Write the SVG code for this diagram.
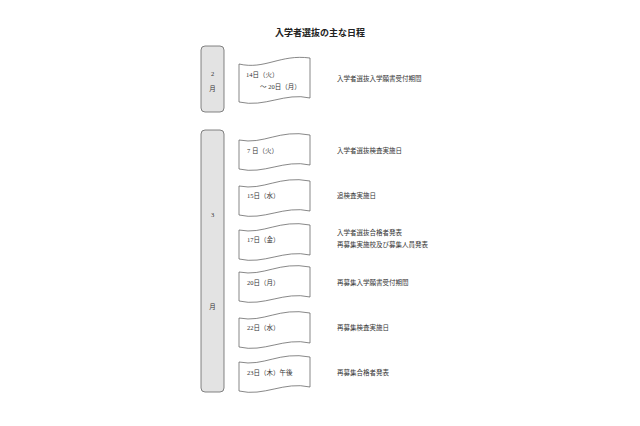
<svg xmlns="http://www.w3.org/2000/svg" width="640" height="426" viewBox="0 0 640 426">
<defs>
<style>
text{font-family:"Liberation Serif","Noto Sans CJK JP",serif;font-size:6.5px;fill:#333}
.t{font-family:"Noto Sans CJK JP",sans-serif;font-size:9px;font-weight:bold;fill:#222}
.m{fill:#e3e3e3;stroke:#666;stroke-width:0.8}
.f{fill:#fff;stroke:#555;stroke-width:0.7}
</style>
<path id="flag" d="M0,5 C25,10 40,-6 71,0 L71,30 C45,24 25,40 0,34 Z"/>
</defs>
<rect width="640" height="426" fill="#fff"/>
<text class="t" x="320" y="36" text-anchor="middle">入学者選抜の主な日程</text>
<g id="feb"><rect class="m" x="201" y="46" width="23" height="66" rx="4"/><text x="212.5" y="76" text-anchor="middle">2</text><text x="212.5" y="91" text-anchor="middle">月</text></g>
<g id="mar"><rect class="m" x="201" y="130" width="23" height="262" rx="4"/><text x="212.5" y="217" text-anchor="middle">3</text><text x="212.5" y="309" text-anchor="middle">月</text></g>
<g id="f1"><path class="f" d="M239,64 C265,70 280,54 310,58 L310,98 C285,92 265,108 239,102 Z"/><text x="246" y="77">14日（火）</text><text x="260" y="89">～ 20日（月）</text><text x="337" y="81">入学者選抜入学願書受付期間</text></g>
<g id="f2"><use href="#flag" class="f" x="239" y="135"/><text x="247" y="153">7 日（火）</text><text x="337" y="153">入学者選抜検査実施日</text></g>
<g id="f3"><use href="#flag" class="f" x="239" y="181"/><text x="247" y="198">15日（水）</text><text x="337" y="198">追検査実施日</text></g>
<g id="f4"><use href="#flag" class="f" x="239" y="225"/><text x="247" y="242">17日（金）</text><text x="337" y="235">入学者選抜合格者発表</text><text x="337" y="247">再募集実施校及び募集人員発表</text></g>
<g id="f5"><use href="#flag" class="f" x="239" y="267"/><text x="247" y="285">20日（月）</text><text x="337" y="285">再募集入学願書受付期間</text></g>
<g id="f6"><use href="#flag" class="f" x="239" y="313"/><text x="247" y="330">22日（水）</text><text x="337" y="330">再募集検査実施日</text></g>
<g id="f7"><use href="#flag" class="f" x="239" y="357"/><text x="247" y="375">23日（木）午後</text><text x="337" y="375">再募集合格者発表</text></g>
<g id="connectors"/>
</svg>
